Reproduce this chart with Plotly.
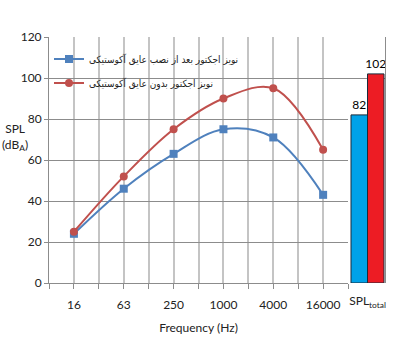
import plotly.graph_objects as go

# Octave-band frequencies (Hz) and SPL readings in dB(A)
freq_labels = ["16", "63", "250", "1000", "4000", "16000"]
spl_with_insulation = [24, 46, 63, 75, 71, 43]
spl_without_insulation = [25, 52, 75, 90, 95, 65]

# Overall sound pressure levels
total_label = "SPL<sub>total</sub>"
total_values = [82, 102]

name_with = "نویز اجکتور بعد از نصب عایق آکوستیکی"
name_without = "نویز اجکتور بدون عایق آکوستیکی"

BLUE = "#4F81BD"
RED = "#C0504D"
BAR_COLORS = ["#00A2E8", "#ED1C24"]
HGRID = "#8c8c8c"
VGRID = "#c4c4c4"
FONT = "Lato, 'Open Sans', sans-serif"

pos = list(range(len(freq_labels)))
# ticks every half step: category labels on whole steps, blanks in between
tick_vals = [i / 2 - 0.5 for i in range(2 * len(freq_labels) + 1)]
tick_text = [freq_labels[int(v)] if float(v).is_integer() and 0 <= v < len(freq_labels) else ""
             for v in tick_vals]

fig = go.Figure()

fig.add_trace(go.Scatter(
    x=pos, y=spl_with_insulation, name=name_with, legendgroup="a",
    mode="lines+markers", line=dict(color=BLUE, width=2, shape="spline", smoothing=1),
    marker=dict(symbol="square", size=8, color=BLUE),
    xaxis="x", yaxis="y",
))
fig.add_trace(go.Scatter(
    x=pos, y=spl_without_insulation, name=name_without, legendgroup="b",
    mode="lines+markers", line=dict(color=RED, width=2, shape="spline", smoothing=1),
    marker=dict(symbol="circle", size=8, color=RED),
    xaxis="x", yaxis="y",
))

fig.add_trace(go.Bar(
    x=[0, 1], y=total_values, width=1,
    marker=dict(color=BAR_COLORS, line=dict(color="#1a2a3a", width=1)),
    text=[str(v) for v in total_values], textposition="outside",
    constraintext="none",
    textfont=dict(family=FONT, size=12, color="#000"),
    cliponaxis=False, showlegend=False, hoverinfo="skip",
    xaxis="x2", yaxis="y2",
))

split = 0.89

fig.update_layout(
    width=400, height=350,
    margin=dict(l=49, r=15, t=37, b=67),
    paper_bgcolor="white", plot_bgcolor="white",
    font=dict(family=FONT, size=12, color="#222"),
    showlegend=True,
    legend=dict(
        x=0.0, y=0.97, xanchor="left", yanchor="top",
        bgcolor="rgba(0,0,0,0)", borderwidth=0,
        font=dict(family="'DejaVu Sans Condensed', 'DejaVu Sans', sans-serif", size=10, color="#222"),
        itemwidth=30, tracegroupgap=5,
    ),
    # white panel behind the legend, masking the grid but not the curves
    shapes=[dict(
        type="rect", xref="paper", yref="paper", layer="between",
        x0=0.003, x1=0.44, y0=0.675, y1=0.997,
        fillcolor="white", line=dict(width=0),
    )],
    xaxis=dict(
        domain=[0, split], range=[-0.5, len(freq_labels) - 0.5],
        tickmode="array", tickvals=tick_vals, ticktext=tick_text,
        showgrid=True, gridcolor=VGRID, gridwidth=1.5,
        showline=True, linecolor=HGRID, linewidth=1,
        ticks="outside", ticklen=5, tickcolor=HGRID,
        ticklabelstandoff=6,
        zeroline=False,
        title=dict(text="Frequency (Hz)", font=dict(size=12, color="#222"), standoff=12),
    ),
    yaxis=dict(
        domain=[0, 1], range=[0, 120], dtick=20,
        showgrid=True, gridcolor=HGRID, gridwidth=1,
        showline=True, linecolor=HGRID, linewidth=1,
        ticks="outside", ticklen=4, tickcolor=HGRID,
        zeroline=False,
    ),
    xaxis2=dict(
        domain=[split, 1], range=[-0.68, 1.56], anchor="y2",
        tickmode="array", tickvals=[0.5], ticktext=[total_label],
        showgrid=False, showline=False, zeroline=False, ticks="",
        ticklabelstandoff=9,
    ),
    yaxis2=dict(
        domain=[0, 1], range=[0, 120], anchor="x2", side="right",
        tickmode="array", tickvals=[100, 120], showticklabels=False,
        showgrid=True, gridcolor=HGRID, gridwidth=1,
        showline=True, linecolor=HGRID, linewidth=1,
        ticks="", zeroline=False,
    ),
    annotations=[dict(
        text="SPL<br>(dB<sub>A</sub>)", xref="paper", yref="y",
        x=-0.1, y=71, xanchor="center", yanchor="middle",
        showarrow=False, align="center",
        font=dict(family=FONT, size=12, color="#222"),
    )],
)

fig.write_html("out.html")
